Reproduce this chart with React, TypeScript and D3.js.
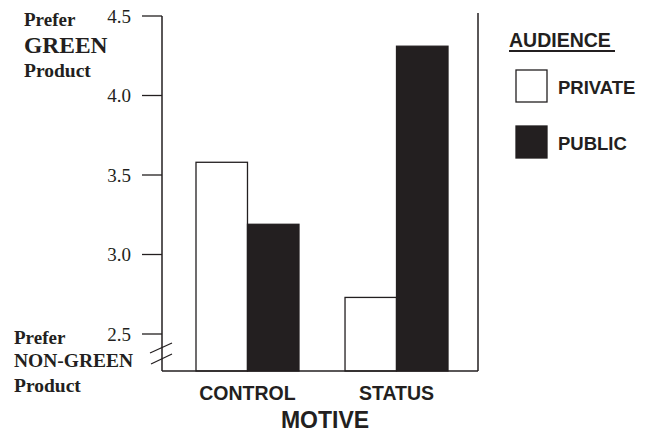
import React from "react";
import * as d3 from "d3";

const motives = ["CONTROL", "STATUS"];
const audiences = ["PRIVATE", "PUBLIC"];
const privateValues = [3.58, 2.73];
const publicValues = [3.19, 4.31];
const yTicks = [2.5, 3.0, 3.5, 4.0, 4.5];

const W = 651;
const H = 433;
const INK = "#231f20";

export default function App() {
  const y = d3.scaleLinear().domain([2.5, 4.5]).range([334, 16]);
  const baseValue = y.invert(371);
  const x0 = d3.scaleBand().domain(motives).range([196, 448]).paddingInner(0.309).paddingOuter(0);
  const x1 = d3.scaleBand().domain(audiences).range([0, x0.bandwidth()]);
  const series = [privateValues, publicValues];
  const fills = ["#ffffff", INK];
  const sans = "'Liberation Sans', Arial, sans-serif";
  const serif = "'Liberation Serif', 'Times New Roman', serif";
  const baseY = y(baseValue);

  return (
    <svg width={W} height={H} style={{ position: "absolute", left: 0, top: 0, background: "#fff" }}>
      {/* bars */}
      {motives.map((m, i) =>
        audiences.map((a, j) => {
          const v = series[j][i];
          const bx = (x0(m) as number) + (x1(a) as number);
          return (
            <rect
              key={m + a}
              x={bx}
              y={y(v)}
              width={x1.bandwidth()}
              height={baseY - y(v)}
              fill={fills[j]}
              stroke={INK}
              strokeWidth={1.3}
            />
          );
        })
      )}
      {/* axes */}
      <line x1={162} x2={162} y1={y(4.5)} y2={baseY} stroke={INK} strokeWidth={1.5} />
      <line x1={162} x2={478} y1={baseY} y2={baseY} stroke={INK} strokeWidth={1.5} />
      <line x1={478} x2={478} y1={13} y2={baseY} stroke={INK} strokeWidth={1.5} />
      {yTicks.map((t) => (
        <g key={t}>
          <line x1={142} x2={162} y1={y(t)} y2={y(t)} stroke={INK} strokeWidth={1.3} />
          <text x={131} y={y(t) + 6.5} textAnchor="end" fontFamily={serif} fontSize={19} fill={INK}>
            {d3.format(".1f")(t)}
          </text>
        </g>
      ))}
      {/* axis break */}
      <line x1={150} y1={353} x2={172} y2={343} stroke={INK} strokeWidth={1.3} />
      <line x1={151} y1={364} x2={172} y2={354} stroke={INK} strokeWidth={1.3} />
      {/* left labels */}
      <g fontFamily={serif} fontWeight="bold" fill={INK}>
        <text x={24} y={26} fontSize={19}>Prefer</text>
        <text x={24} y={53} fontSize={23.5}>GREEN</text>
        <text x={24} y={77} fontSize={19.5}>Product</text>
        <text x={14} y={344} fontSize={19}>Prefer</text>
        <text x={14} y={367} fontSize={19.5}>NON-GREEN</text>
        <text x={14} y={392} fontSize={19.5}>Product</text>
      </g>
      {/* x labels */}
      <g fontFamily={sans} fontWeight="bold" fill={INK} textAnchor="middle">
        {motives.map((m) => (
          <text key={m} x={(x0(m) as number) + x0.bandwidth() / 2} y={400} fontSize={19.5}>
            {m}
          </text>
        ))}
        <text x={325} y={428} fontSize={23}>MOTIVE</text>
      </g>
      {/* legend */}
      <g fontFamily={sans} fontWeight="bold" fill={INK}>
        <text x={509} y={47} fontSize={19.5}>AUDIENCE</text>
        <line x1={509} x2={615} y1={51} y2={51} stroke={INK} strokeWidth={2} />
        {audiences.map((a, j) => (
          <g key={a}>
            <rect x={516} y={70 + j * 56} width={31} height={32} fill={fills[j]} stroke={INK} strokeWidth={1.3} />
            <text x={558} y={94 + j * 56} fontSize={18.5}>{a}</text>
          </g>
        ))}
      </g>
    </svg>
  );
}
